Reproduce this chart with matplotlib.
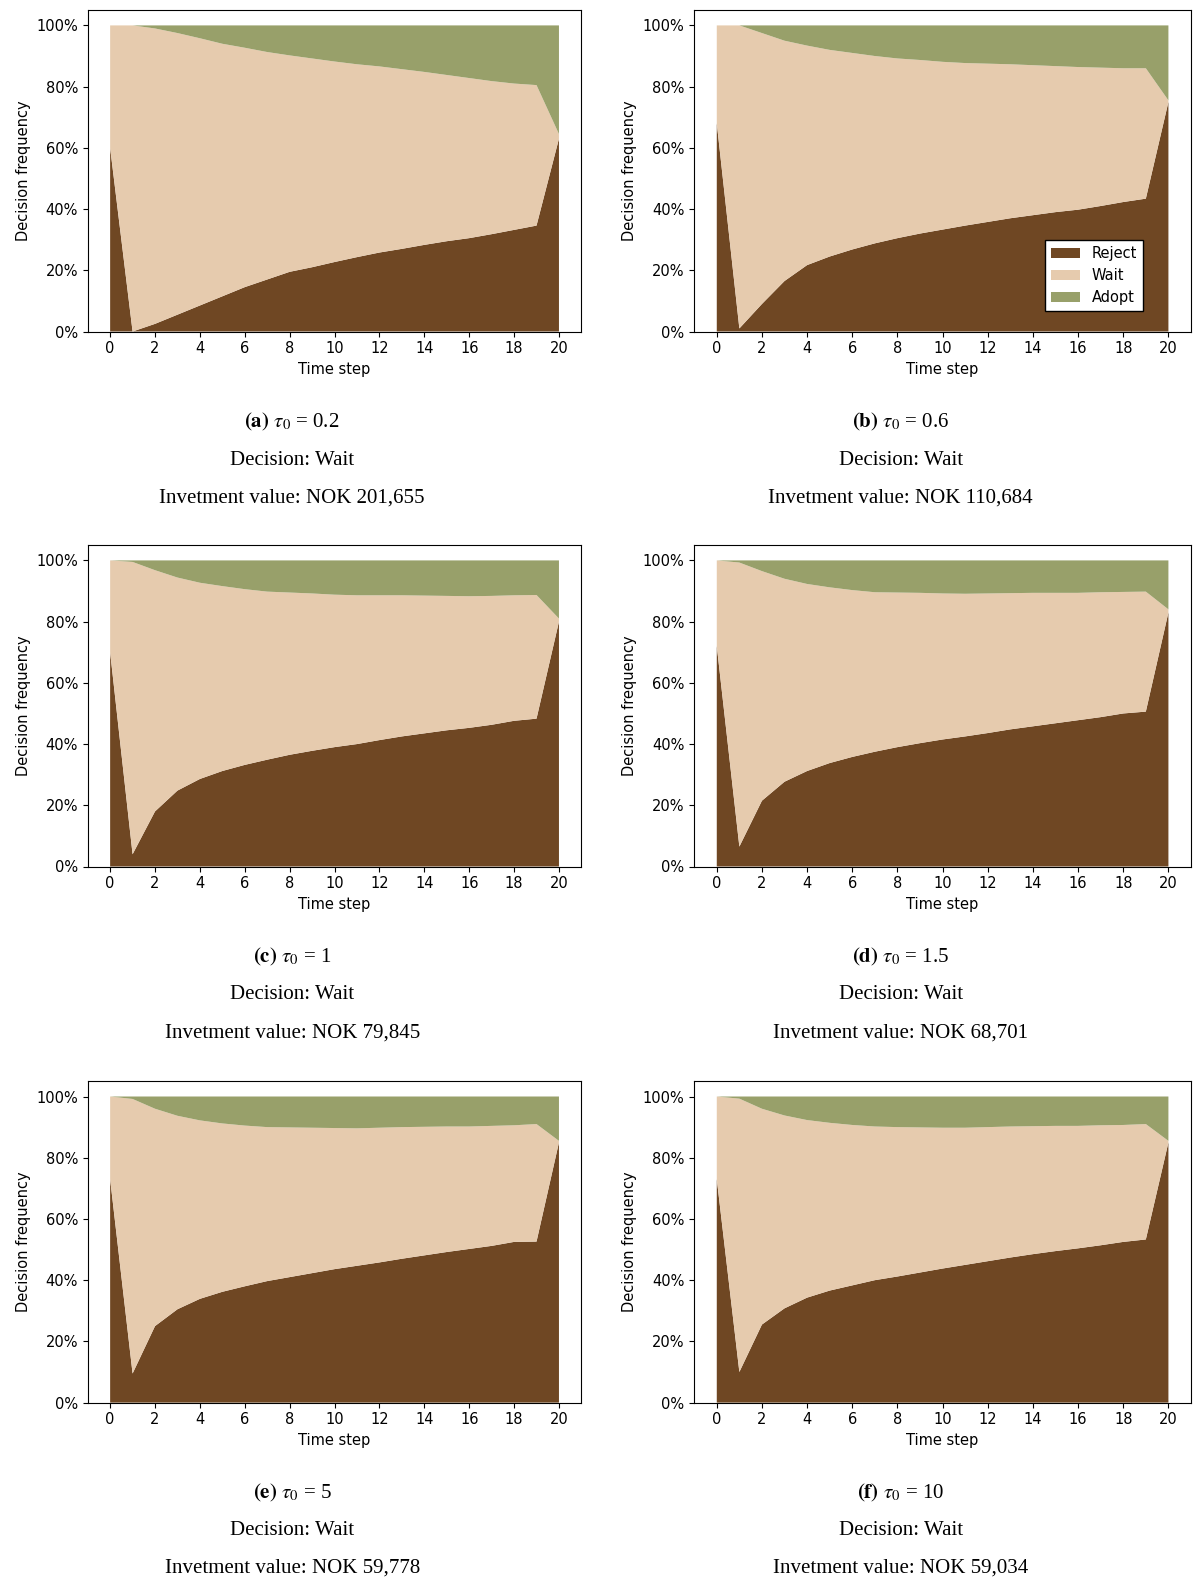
import matplotlib
matplotlib.use("Agg")
import matplotlib.pyplot as plt
from matplotlib.ticker import PercentFormatter
import numpy as np

plt.rcParams['mathtext.fontset'] = 'stix'

# time steps shared by every panel
steps = list(range(21))

labels = ["Reject", "Wait", "Adopt"]
colors = ["#6F4723", "#E6CBAE", "#98A06A"]

panel_tags = ["(a)", "(b)", "(c)", "(d)", "(e)", "(f)"]
tau0 = ["0.2", "0.6", "1", "1.5", "5", "10"]
decisions = ["Wait", "Wait", "Wait", "Wait", "Wait", "Wait"]
invest_values = ["201,655", "110,684", "79,845", "68,701", "59,778", "59,034"]

# decision shares in percent, one list per panel
reject_a = [60, 0, 2.5, 5.5, 8.5, 11.5, 14.5, 17, 19.5, 21, 22.7, 24.3, 25.8, 27, 28.3, 29.5, 30.5, 31.8, 33.2, 34.6, 63]
wait_a = [40, 100, 96.5, 92, 87.3, 82.5, 78.2, 74.3, 70.7, 68.2, 65.5, 63, 60.8, 58.7, 56.5, 54.3, 52.3, 50, 47.8, 45.9, 1.5]
adopt_a = [0, 0, 1, 2.5, 4.2, 6, 7.3, 8.7, 9.8, 10.8, 11.8, 12.7, 13.4, 14.3, 15.2, 16.2, 17.2, 18.2, 19, 19.5, 35.5]

reject_b = [68, 1, 9, 16.5, 21.7, 24.5, 26.8, 28.8, 30.5, 32, 33.3, 34.6, 35.8, 37, 38, 39, 39.8, 41, 42.3, 43.4, 75]
wait_b = [32, 99, 88.5, 78.5, 71.7, 67.5, 64.2, 61.2, 58.7, 56.7, 54.8, 53.1, 51.7, 50.3, 49, 47.7, 46.6, 45.2, 43.7, 42.6, 0.5]
adopt_b = [0, 0, 2.5, 5, 6.6, 8, 9, 10, 10.8, 11.3, 11.9, 12.3, 12.5, 12.7, 13, 13.3, 13.6, 13.8, 14, 14, 24.5]

reject_c = [70, 4, 18, 24.8, 28.6, 31.2, 33.2, 34.9, 36.5, 37.8, 39, 40, 41.3, 42.5, 43.5, 44.5, 45.3, 46.3, 47.6, 48.3, 80]
wait_c = [30, 95.5, 78.8, 69.6, 64.1, 60.4, 57.4, 54.9, 53, 51.4, 49.8, 48.6, 47.3, 46.1, 45, 43.9, 43, 42.1, 41, 40.4, 1]
adopt_c = [0, 0.5, 3.2, 5.6, 7.3, 8.4, 9.4, 10.2, 10.5, 10.8, 11.2, 11.4, 11.4, 11.4, 11.5, 11.6, 11.7, 11.6, 11.4, 11.3, 19]

reject_d = [72, 6.5, 21.5, 27.7, 31.2, 33.8, 35.8, 37.5, 39, 40.3, 41.5, 42.5, 43.6, 44.8, 45.8, 46.8, 47.8, 48.8, 50, 50.6, 83]
wait_d = [28, 92.8, 75, 66.3, 61.1, 57.4, 54.5, 52.1, 50.5, 49.1, 47.7, 46.6, 45.6, 44.5, 43.6, 42.6, 41.6, 40.8, 39.7, 39.2, 1]
adopt_d = [0, 0.7, 3.5, 6, 7.7, 8.8, 9.7, 10.4, 10.5, 10.6, 10.8, 10.9, 10.8, 10.7, 10.6, 10.6, 10.6, 10.4, 10.3, 10.2, 16]

reject_e = [73, 9.5, 25, 30.5, 33.9, 36.2, 38, 39.7, 41, 42.3, 43.6, 44.7, 45.8, 47, 48.1, 49.2, 50.2, 51.2, 52.5, 52.6, 85]
wait_e = [27, 89.7, 71, 63.2, 58.3, 55, 52.5, 50.3, 48.9, 47.5, 46.1, 44.9, 44, 43, 42, 41, 40, 39.2, 38.1, 38.4, 0.5]
adopt_e = [0, 0.8, 4, 6.3, 7.8, 8.8, 9.5, 10, 10.1, 10.2, 10.3, 10.4, 10.2, 10, 9.9, 9.8, 9.8, 9.6, 9.4, 9, 14.5]

reject_f = [73, 10, 25.5, 30.8, 34.3, 36.6, 38.3, 40, 41.2, 42.5, 43.8, 45, 46.2, 47.4, 48.5, 49.5, 50.4, 51.4, 52.5, 53.3, 85]
wait_f = [27, 89.3, 70.5, 63, 58, 54.8, 52.4, 50.2, 48.8, 47.4, 46, 44.8, 43.8, 42.8, 41.8, 40.9, 40, 39.2, 38.2, 37.7, 0.5]
adopt_f = [0, 0.7, 4, 6.2, 7.7, 8.6, 9.3, 9.8, 10, 10.1, 10.2, 10.2, 10, 9.8, 9.7, 9.6, 9.6, 9.4, 9.3, 9, 14.5]

panels = [
    (reject_a, wait_a, adopt_a),
    (reject_b, wait_b, adopt_b),
    (reject_c, wait_c, adopt_c),
    (reject_d, wait_d, adopt_d),
    (reject_e, wait_e, adopt_e),
    (reject_f, wait_f, adopt_f),
]

W, H = 1193, 1580
fig = plt.figure(figsize=(W / 100, H / 100), dpi=100)

# pixel boxes for the two columns / three rows
cols = [(87.7, 581.4), (694.2, 1191.0)]
rows = [(10.1, 331.5), (545.1, 866.5), (1081.2, 1402.6)]
caption_x = [292.2, 900.8]
caption_y = [(422.2, 460.5, 497.8), (957.2, 994.5, 1032.8), (1493.3, 1530.5, 1567.8)]

for i, (rej, wai, ado) in enumerate(panels):
    r, c = divmod(i, 2)
    x0, x1 = cols[c]
    y0, y1 = rows[r]
    ax = fig.add_axes([x0 / W, 1 - y1 / H, (x1 - x0) / W, (y1 - y0) / H])
    ax.stackplot(steps, np.array(rej) / 100, np.array(wai) / 100, np.array(ado) / 100,
                 labels=labels, colors=colors)
    ax.set_xticks(range(0, 21, 2))
    ax.set_yticks(np.arange(0, 1.01, 0.2))
    ax.yaxis.set_major_formatter(PercentFormatter(1.0, decimals=0))
    ax.tick_params(labelsize=10.5)
    ax.set_xlabel("Time step", fontsize=10.5)
    ax.set_ylabel("Decision frequency", fontsize=10.5)
    if i == 1:
        ax.legend(loc="lower right", bbox_to_anchor=(0.903, 0.063), borderaxespad=0,
                  fontsize=10.5, fancybox=False, edgecolor="black", framealpha=1)

    cx = caption_x[c]
    ly = caption_y[r]
    fig.text(cx / W, 1 - ly[0] / H,
             r"$\mathbf{%s}$ $\tau_0$ = %s" % (panel_tags[i], tau0[i]),
             ha="center", va="center", fontsize=15, family="Liberation Serif")
    fig.text(cx / W, 1 - ly[1] / H, "Decision: " + decisions[i],
             ha="center", va="center", fontsize=15, family="Liberation Serif")
    fig.text(cx / W, 1 - ly[2] / H, "Invetment value: NOK " + invest_values[i],
             ha="center", va="center", fontsize=15, family="Liberation Serif")

fig.savefig("out.png", dpi=100)
